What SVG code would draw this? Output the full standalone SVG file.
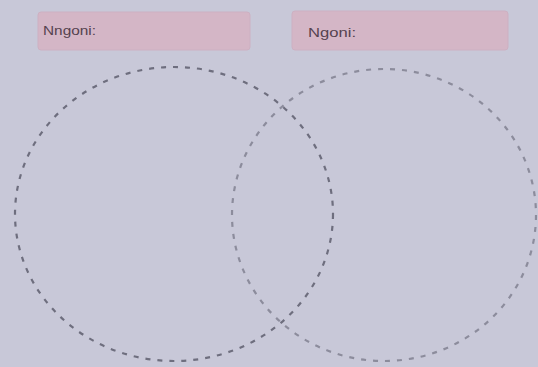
<svg xmlns="http://www.w3.org/2000/svg" width="538" height="367" viewBox="0 0 538 367">
<style>
.box{fill:#d4b6c6;stroke:#cdb0c2;stroke-width:1}
.lbl{font-family:"Liberation Sans",Arial,sans-serif;font-size:12px;fill:#54424f}
.circ{fill:none;stroke-width:2.2;stroke-dasharray:5 7}
</style>
<rect width="538" height="367" fill="#c8c8d8"/>
<g id="label-left">
<rect class="box" x="38" y="12" width="212" height="38" rx="3"/>
<text class="lbl" x="43" y="35" textLength="53" lengthAdjust="spacingAndGlyphs">Nngoni:</text>
</g>
<g id="label-right">
<rect class="box" x="292" y="11" width="216" height="39" rx="3"/>
<text class="lbl" x="308" y="37" textLength="48" lengthAdjust="spacingAndGlyphs">Ngoni:</text>
</g>
<g id="circle-right">
<ellipse class="circ" cx="384" cy="215" rx="152" ry="146" stroke="#8c8c9c"/>
</g>
<g id="circle-left">
<ellipse class="circ" cx="174" cy="214" rx="159" ry="147" stroke="#6e6e7e"/>
</g>
<g id="connectors"></g>
</svg>
